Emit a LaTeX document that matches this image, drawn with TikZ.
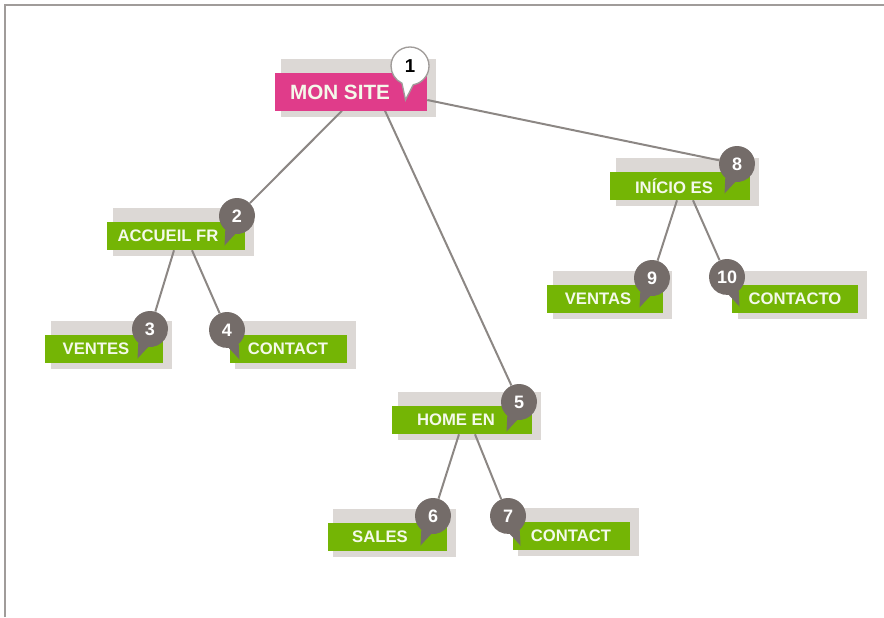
\documentclass[tikz,border=0pt]{standalone}
\usepackage{fontspec}
\setmainfont{Liberation Sans}
\usetikzlibrary{calc,backgrounds,shapes.callouts}
\definecolor{siteGreen}{HTML}{74B505}
\definecolor{sitePink}{HTML}{E03C8A}
\definecolor{bubbleGray}{HTML}{746C69}
\definecolor{backdropGray}{HTML}{DCD8D5}
\definecolor{linkGray}{HTML}{8C8784}
\definecolor{labelWhite}{HTML}{F4F9EA}
\definecolor{frameGray}{HTML}{A09C9A}

\begin{document}
\begin{tikzpicture}[x=0.75pt,y=-0.75pt,
   sitepage/.style={fill=siteGreen,text=labelWhite,inner sep=0pt,minimum height=21pt,
                    font=\fontsize{12.5}{14}\selectfont\bfseries},
   sitehome/.style={sitepage,fill=sitePink,minimum height=27.75pt,
                    font=\fontsize{15.5}{18}\selectfont\bfseries},
   padright/.style={execute at end node={\hspace{#1}}},
   bubble/.style={ellipse callout,fill=bubbleGray,text=white,inner sep=0pt,
                  minimum width=27pt,minimum height=27pt,callout pointer arc=35,
                  font=\fontsize{13.5}{15}\selectfont\bfseries},
   bubbleL/.style={bubble,callout relative pointer={(-5.5,13)}},
   bubbleR/.style={bubble,callout relative pointer={(5.5,13)}},
   backdrop/.style={fill=backdropGray},
   link/.style={draw=linkGray,line width=1.5pt}]
  \useasboundingbox (0,0) rectangle (884,617);
  \draw[frameGray,line width=1.5pt] (5,617) |- (884,5);

  % pages
  \node[sitehome,minimum width=114pt,padright=16.5pt] (site) at (351,92) {MON SITE};
  \node[sitepage,minimum width=103.5pt,padright=12pt] (fr) at (176,236) {ACCUEIL FR};
  \node[sitepage,minimum width=88.5pt,padright=12pt] (frVentes) at (104,349) {VENTES};
  \node[sitepage,minimum width=87.75pt] (frContact) at (288,349) {CONTACT};
  \node[sitepage,minimum width=105pt,padright=9pt] (en) at (462,420) {HOME EN};
  \node[sitepage,minimum width=89.25pt,padright=10.5pt] (enSales) at (387,537) {SALES};
  \node[sitepage,minimum width=87.75pt] (enContact) at (571,536) {CONTACT};
  \node[sitepage,minimum width=105pt,padright=9pt] (es) at (680,186) {INÍCIO ES};
  \node[sitepage,minimum width=87pt,padright=10.5pt] (esVentas) at (605,299) {VENTAS};
  \node[sitepage,minimum width=94.5pt] (esContacto) at (795,299) {CONTACTO};

  % numbers
  \node[bubble,fill=white,draw=frameGray,line width=1pt,text=black,
        minimum width=28.5pt,minimum height=28.5pt,
        callout relative pointer={(-2,15)},font=\fontsize{14}{16}\selectfont\bfseries]
        (b1) at (410,66) {1};
  \node[bubbleL] (b2) at (237,216) {2};
  \node[bubbleL] (b3) at (150,329) {3};
  \node[bubbleR] (b4) at (227,330) {4};
  \node[bubbleL] (b5) at (519,402) {5};
  \node[bubbleL] (b6) at (433,516) {6};
  \node[bubbleR] (b7) at (508,516) {7};
  \node[bubbleL] (b8) at (737,164) {8};
  \node[bubbleL] (b9) at (652,278) {9};
  \node[bubbleR] (b10) at (727,277) {10};

  \begin{scope}[on background layer]
    \foreach \n in {site,fr,frVentes,frContact,en,enSales,enContact,es,esVentas,esContacto}
      \fill[backdrop] ($(\n.north west)+(6,-14)$) rectangle ($(\n.south east)+(9,6)$);
    \draw[link] ($(site.south)+(-9,0)$) -- (b2);
    \draw[link] ($(site.south)+(34,0)$) -- (b5);
    \draw[link] ($(site.east)+(0,8)$) -- (b8);
    \draw[link] ($(fr.south)+(-2,0)$) -- (b3);
    \draw[link] ($(fr.south)+(16,0)$) -- (b4);
    \draw[link] ($(en.south)+(-3,0)$) -- (b6);
    \draw[link] ($(en.south)+(13,0)$) -- (b7);
    \draw[link] ($(es.south)+(-3,0)$) -- (b9);
    \draw[link] ($(es.south)+(13,0)$) -- (b10);
  \end{scope}
\end{tikzpicture}
\end{document}
